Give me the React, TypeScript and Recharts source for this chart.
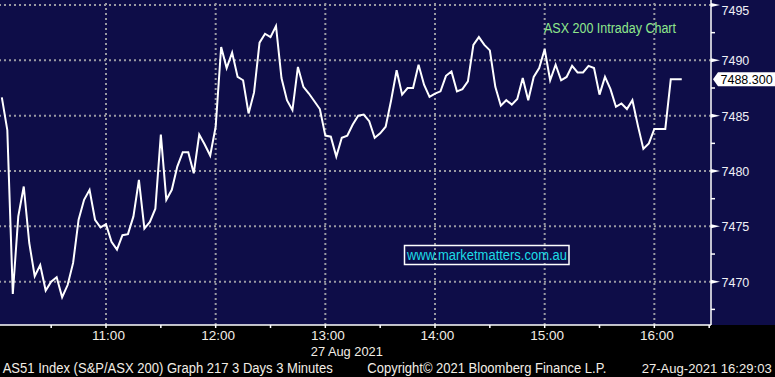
import { LineChart, Line, XAxis, YAxis, ReferenceLine } from "recharts";

// AS51 3-minute closes, one array per hour
const H10 = [
  7486.65, 7483.7, 7468.9, 7475.9, 7478.6, 7473.5, 7470.5, 7471.5, 7469.2, 7470.0,
  7470.4, 7468.6, 7469.7, 7471.7, 7475.6, 7477.4, 7478.3, 7475.6, 7474.9, 7475.2,
];
const H11 = [
  7473.6, 7472.9, 7474.2, 7474.3, 7475.9, 7479.2, 7474.8, 7475.4, 7476.6, 7483.3,
  7477.4, 7478.3, 7480.4, 7481.7, 7481.7, 7479.8, 7483.3, 7482.4, 7481.4, 7484.0,
];
const H12 = [
  7491.2, 7489.3, 7490.7, 7488.5, 7488.2, 7485.2, 7487.1, 7491.6, 7492.4, 7492.1,
  7493.1, 7488.4, 7486.4, 7485.5, 7489.4, 7487.6, 7487.0, 7486.3, 7485.6, 7483.2,
];
const H13 = [
  7483.1, 7481.3, 7483.0, 7483.2, 7484.2, 7485.0, 7485.1, 7484.5, 7483.0, 7483.4,
  7484.0, 7486.4, 7489.1, 7486.9, 7487.5, 7487.5, 7489.6, 7487.8, 7486.7, 7487.0,
];
const H14 = [
  7487.2, 7488.6, 7489.0, 7487.2, 7487.4, 7488.1, 7491.4, 7492.1, 7491.4, 7490.9,
  7487.6, 7485.9, 7486.4, 7486.0, 7486.5, 7488.4, 7486.4, 7488.5, 7489.3, 7491.0,
];
const H15 = [
  7488.2, 7489.6, 7488.2, 7488.5, 7489.5, 7488.9, 7488.9, 7489.5, 7489.3, 7486.9,
  7488.5, 7487.4, 7485.8, 7486.1, 7485.6, 7486.4, 7484.1, 7482.0, 7482.5, 7483.8,
];
const H16 = [7483.8, 7483.8, 7488.3, 7488.3, 7488.3];

const LAST_PRICE = 7488.3;

// minutes after 10:00
const FIRST_BAR = 3;
const BAR_STEP = 3;
const X_TICKS = [30, 60, 90, 120, 150, 180, 210, 240, 270, 300, 330, 360, 390];
const HOUR_LINES = [60, 120, 180, 240, 300, 360];
const Y_TICKS = [7467.5, 7470, 7472.5, 7475, 7477.5, 7480, 7482.5, 7485, 7487.5, 7490, 7492.5, 7495];
const Y_LINES = [7470, 7475, 7480, 7485, 7490, 7495];

const NAVY = "#0e0d48";
const GRID = "#9a9aa2";
const TXT = "#f3eee6";
const FONT = '"Liberation Sans", Arial, sans-serif';

const closes = [...H10, ...H11, ...H12, ...H13, ...H14, ...H15, ...H16];
const data = closes.map((v, i) => ({ t: FIRST_BAR + i * BAR_STEP, v }));

function fmtTime(m: number) {
  return `${10 + Math.floor(m / 60)}:${String(m % 60).padStart(2, "0")}`;
}

function XTick({ x, y, payload }: any) {
  const v = payload.value;
  const hour = HOUR_LINES.includes(v);
  return (
    <g>
      <line x1={x} x2={x} y1={y} y2={y + 3} stroke="#fff" strokeWidth={1.5} />
      {hour && (
        <text x={x + 2.5} y={y + 15} textAnchor="middle" fill={TXT} fontSize={13.5} fontFamily={FONT}>
          {fmtTime(v)}
        </text>
      )}
      {v === 180 && (
        <text x={x - 14.5} y={y + 31} fill={TXT} fontSize={13.5} fontFamily={FONT} textLength={72} lengthAdjust="spacingAndGlyphs">
          27 Aug 2021
        </text>
      )}
    </g>
  );
}

function YTick({ x, y, payload }: any) {
  const v = payload.value;
  if (Math.abs(v % 5) > 0.01) {
    return <line x1={x} x2={x + 4} y1={y} y2={y} stroke="#fff" strokeWidth={1.5} />;
  }
  return (
    <g>
      <polygon points={`${x},${y - 2} ${x + 9},${y} ${x},${y + 2}`} fill="#fff" />
      <text x={x + 10.5} y={Math.max(y + 1, 11)} dominantBaseline="central" fill="#f0f0f6" fontSize={12.5} fontFamily={FONT}>
        {v}
      </text>
    </g>
  );
}

function PriceTag({ viewBox }: any) {
  const x = viewBox.x + viewBox.width;
  const y = viewBox.y;
  return (
    <g>
      <polygon
        points={`${x + 2},${y} ${x + 7},${y - 7} ${x + 64},${y - 7} ${x + 64},${y + 7} ${x + 7},${y + 7}`}
        fill="#fff"
      />
      <text x={x + 9.5} y={y + 0.5} dominantBaseline="central" fill="#000" fontSize={12.5} fontFamily={FONT}>
        {LAST_PRICE.toFixed(3)}
      </text>
    </g>
  );
}

export default function App() {
  return (
    <div
      style={{
        position: "absolute",
        left: 0,
        top: 0,
        width: 775,
        height: 377,
        background: `linear-gradient(to bottom, ${NAVY} 0 325px, #000 325px)`,
      }}
    >
      <LineChart width={775} height={377} data={data} margin={{ top: 0, right: 0, left: 0, bottom: 0 }}>
        <XAxis
          dataKey="t"
          type="number"
          domain={[2, 391]}
          allowDataOverflow
          ticks={X_TICKS}
          interval={0}
          height={52}
          tickSize={0}
          tickMargin={0}
          tickLine={false}
          axisLine={{ stroke: "#fff", strokeWidth: 1.5 }}
          tick={<XTick />}
        />
        <YAxis
          orientation="right"
          type="number"
          domain={[7466.09, 7495.45]}
          allowDataOverflow
          ticks={Y_TICKS}
          interval={0}
          width={64}
          tickSize={0}
          tickMargin={0}
          tickLine={false}
          axisLine={{ stroke: "#fff", strokeWidth: 1.5 }}
          tick={<YTick />}
        />
        {Y_LINES.map((v) => (
          <ReferenceLine key={`y${v}`} y={v} stroke={GRID} strokeWidth={2} strokeDasharray="2 3" />
        ))}
        {HOUR_LINES.map((v) => (
          <ReferenceLine key={`x${v}`} x={v} stroke={GRID} strokeWidth={2} strokeDasharray="2 3" />
        ))}
        <ReferenceLine y={LAST_PRICE} stroke="none" label={(p: any) => <PriceTag {...p} />} />
        <Line
          type="linear"
          dataKey="v"
          stroke="#fff"
          strokeWidth={2}
          dot={false}
          activeDot={false}
          isAnimationActive={false}
        />
      </LineChart>
      <svg
        width={775}
        height={377}
        style={{ position: "absolute", left: 0, top: 0, pointerEvents: "none" }}
        fontFamily={FONT}
      >
        <text x={544} y={33} fill="#8ee88c" fontSize={14} textLength={132} lengthAdjust="spacingAndGlyphs">
          ASX 200 Intraday Chart
        </text>
        <rect x={404.5} y={245.5} width={164.5} height={19} fill="none" stroke="#fff" strokeWidth={1.5} />
        <text x={407} y={260} fill="#1cdde6" fontSize={14} textLength={160} lengthAdjust="spacingAndGlyphs">
          www.marketmatters.com.au
        </text>
        <text x={2.7} y={373} fill={TXT} fontSize={14} textLength={330} lengthAdjust="spacingAndGlyphs">
          AS51 Index (S&amp;P/ASX 200) Graph 217 3 Days 3 Minutes
        </text>
        <text x={367.3} y={373} fill={TXT} fontSize={14} textLength={239} lengthAdjust="spacingAndGlyphs">
          Copyright© 2021 Bloomberg Finance L.P.
        </text>
        <text x={641.7} y={373} fill={TXT} fontSize={13} textLength={130} lengthAdjust="spacingAndGlyphs">
          27-Aug-2021 16:29:03
        </text>
      </svg>
    </div>
  );
}
